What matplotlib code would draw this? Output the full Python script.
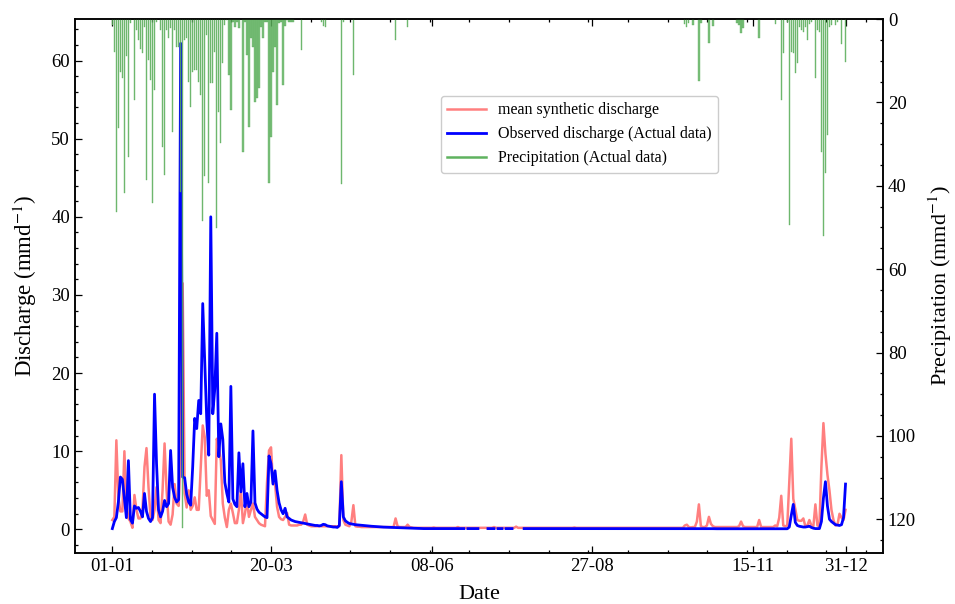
import numpy as np
import pandas as pd
import matplotlib
matplotlib.use("Agg")
import matplotlib.pyplot as plt
from matplotlib.lines import Line2D
from matplotlib.ticker import AutoMinorLocator, MultipleLocator

nan = np.nan

# Daily series for a leap year (2020-01-01 .. 2020-12-31, 366 days)
dates = pd.date_range("2020-01-01", "2020-12-31", freq="D")

# Observed discharge (mm/d)
obs_discharge = [
    0.1, 1.0, 1.5, 3.5, 6.7, 6.4, 4.0, 1.5, 8.8, 1.3,
    0.8, 3.0, 2.7, 2.8, 2.3, 1.6, 4.6, 2.3, 1.4, 1.0,
    1.5, 17.3, 8.4, 2.5, 1.6, 2.3, 3.7, 2.9, 3.3, 10.1,
    5.4, 4.1, 3.5, 3.8, 62.2, 6.7, 6.6, 4.5, 3.5, 3.1,
    8.0, 14.2, 12.9, 16.5, 14.8, 28.9, 21.6, 14.0, 9.5, 40.0,
    14.8, 18.0, 25.1, 9.3, 13.5, 11.5, 6.0, 4.6, 3.5, 18.3,
    3.9, 3.2, 2.9, 9.8, 4.8, 8.4, 2.9, 4.6, 2.9, 3.5,
    12.6, 3.4, 2.6, 2.2, 2.0, 1.8, 1.6, 1.5, 9.4, 8.4,
    5.8, 7.5, 5.0, 3.4, 2.5, 2.0, 2.7, 1.6, 1.4, 1.2,
    1.1, 1.0, 0.95, 0.9, 0.85, 0.8, 0.75, 0.7, 0.65, 0.6,
    0.55, 0.5, 0.5, 0.45, 0.5, 0.65, 0.6, 0.45, 0.4, 0.35,
    0.3, 0.3, 0.25, 0.5, 6.1, 1.6, 1.1, 0.9, 0.75, 0.7,
    0.65, 0.6, 0.58, 0.55, 0.52, 0.5, 0.48, 0.45, 0.42, 0.4,
    0.38, 0.36, 0.34, 0.32, 0.3, 0.29, 0.28, 0.26, 0.25, 0.24,
    0.23, 0.22, 0.21, 0.2, 0.19, 0.18, 0.17, 0.16, 0.15, 0.14,
    0.13, 0.12, 0.12, 0.11, 0.11, 0.1, 0.1, 0.1, 0.1, 0.1,
    0.1, 0.1, 0.1, 0.1, 0.1, 0.1, 0.1, 0.1, 0.1, 0.1,
    0.1, 0.1, 0.1, 0.1, 0.1, 0.1, nan, 0.1, 0.1, 0.1,
    0.1, 0.1, 0.1, nan, nan, nan, nan, 0.1, 0.1, 0.1,
    0.1, nan, 0.1, 0.1, 0.1, nan, 0.1, 0.1, 0.1, 0.1,
    nan, nan, nan, nan, nan, 0.1, 0.1, 0.1, 0.1, 0.1,
    0.1, 0.1, 0.1, 0.1, 0.1, 0.1, 0.1, 0.1, 0.1, 0.1,
    0.1, 0.1, 0.1, 0.1, 0.1, 0.1, 0.1, 0.1, 0.1, 0.1,
    0.1, 0.1, 0.1, 0.1, 0.1, 0.1, 0.1, 0.1, 0.1, 0.1,
    0.1, 0.1, 0.1, 0.1, 0.1, 0.1, 0.1, 0.1, 0.1, 0.1,
    0.1, 0.1, 0.1, 0.1, 0.1, 0.1, 0.1, 0.1, 0.1, 0.1,
    0.1, 0.1, 0.1, 0.1, 0.1, 0.1, 0.1, 0.1, 0.1, 0.1,
    0.09, 0.09, 0.09, 0.09, 0.09, 0.09, 0.09, 0.09, 0.09, 0.09,
    0.09, 0.09, 0.09, 0.09, 0.09, 0.09, 0.09, 0.09, 0.09, 0.09,
    0.09, 0.09, 0.09, 0.09, 0.09, 0.09, 0.09, 0.09, 0.09, 0.09,
    0.08, 0.08, 0.08, 0.08, 0.08, 0.08, 0.08, 0.08, 0.08, 0.08,
    0.08, 0.08, 0.08, 0.08, 0.08, 0.08, 0.08, 0.08, 0.08, 0.08,
    0.08, 0.08, 0.08, 0.08, 0.08, 0.08, 0.08, 0.08, 0.08, 0.08,
    0.08, 0.08, 0.08, 0.08, 0.08, 0.08, 0.08, 0.3, 1.8, 3.2,
    0.9, 0.5, 0.4, 0.35, 0.3, 0.3, 0.35, 0.4, 0.25, 0.15,
    0.1, 0.1, 0.1, 1.0, 4.0, 6.1, 3.0, 1.3, 1.0, 0.8,
    0.6, 0.55, 0.5, 0.6, 1.5, 5.8,
]

# Mean synthetic discharge (mm/d)
syn_discharge = [
    1.2, 1.6, 11.4, 4.1, 2.3, 2.3, 10.0, 3.3, 1.4, 1.0,
    0.2, 4.4, 2.5, 1.4, 1.4, 2.5, 8.0, 10.4, 5.4, 1.6,
    1.2, 2.5, 5.4, 1.2, 0.8, 5.0, 11.0, 5.0, 1.0, 0.6,
    1.9, 5.8, 3.3, 3.0, 10.0, 31.5, 4.6, 2.8, 5.0, 2.5,
    3.0, 4.1, 2.5, 2.5, 8.0, 13.3, 11.8, 4.3, 5.0, 1.7,
    1.2, 0.7, 11.6, 10.5, 8.8, 3.3, 1.5, 0.3, 2.5, 3.3,
    2.1, 0.8, 0.8, 2.5, 5.0, 0.8, 2.0, 3.7, 1.6, 2.5,
    3.3, 1.6, 1.2, 0.8, 0.6, 0.5, 0.4, 6.0, 10.1, 10.5,
    5.8, 5.8, 2.9, 1.6, 1.3, 1.2, 1.6, 2.1, 0.6, 0.5,
    0.5, 0.5, 0.5, 0.6, 0.6, 1.0, 1.9, 0.6, 0.5, 0.4,
    0.4, 0.4, 0.4, 0.4, 0.4, 0.4, 0.4, 0.4, 0.4, 0.4,
    0.4, 0.4, 0.4, 0.4, 9.5, 1.2, 0.6, 0.5, 0.4, 1.0,
    3.1, 0.4, 0.35, 0.35, 0.3, 0.3, 0.3, 0.3, 0.3, 0.3,
    0.3, 0.3, 0.3, 0.3, 0.3, 0.3, 0.3, 0.3, 0.3, 0.3,
    0.3, 1.4, 0.4, 0.3, 0.3, 0.3, 0.3, 0.6, 0.3, 0.25,
    0.2, 0.2, 0.2, 0.2, 0.2, 0.2, 0.2, 0.2, 0.2, 0.2,
    0.25, 0.2, 0.2, 0.2, 0.2, 0.2, 0.2, 0.2, 0.2, 0.2,
    0.2, 0.2, 0.3, 0.2, 0.2, 0.2, 0.2, 0.2, 0.2, 0.2,
    0.2, 0.2, 0.2, 0.2, 0.2, 0.2, 0.2, 0.2, 0.2, 0.2,
    0.3, 0.2, 0.2, 0.2, 0.2, 0.2, 0.2, 0.2, 0.2, 0.2,
    0.2, 0.35, 0.2, 0.2, 0.2, 0.2, 0.2, 0.2, 0.2, 0.2,
    0.2, 0.2, 0.2, 0.2, 0.2, 0.2, 0.2, 0.2, 0.2, 0.2,
    0.2, 0.2, 0.2, 0.2, 0.2, 0.2, 0.2, 0.2, 0.2, 0.2,
    0.25, 0.2, 0.2, 0.2, 0.2, 0.2, 0.2, 0.2, 0.2, 0.2,
    0.2, 0.2, 0.2, 0.2, 0.2, 0.2, 0.2, 0.2, 0.2, 0.2,
    0.2, 0.2, 0.2, 0.2, 0.2, 0.2, 0.2, 0.2, 0.2, 0.2,
    0.2, 0.2, 0.2, 0.2, 0.2, 0.2, 0.2, 0.2, 0.2, 0.2,
    0.2, 0.2, 0.2, 0.2, 0.2, 0.2, 0.2, 0.2, 0.2, 0.2,
    0.2, 0.2, 0.2, 0.2, 0.2, 0.5, 0.6, 0.3, 0.25, 0.3,
    0.3, 1.0, 3.2, 0.4, 0.3, 0.3, 0.5, 1.6, 0.7, 0.4,
    0.3, 0.3, 0.3, 0.3, 0.3, 0.3, 0.3, 0.3, 0.3, 0.3,
    0.3, 0.3, 0.4, 1.0, 0.4, 0.3, 0.3, 0.3, 0.3, 0.3,
    0.3, 0.3, 1.2, 0.3, 0.3, 0.3, 0.3, 0.3, 0.3, 0.3,
    0.5, 0.4, 1.5, 4.3, 0.5, 0.4, 0.5, 6.0, 11.6, 3.9,
    2.6, 1.2, 1.1, 1.1, 1.4, 0.4, 0.5, 1.2, 0.5, 0.4,
    3.2, 0.5, 0.4, 8.0, 13.6, 9.7, 7.0, 5.0, 2.5, 1.2,
    0.5, 0.6, 2.0, 1.5, 1.2, 2.5,
]

# Precipitation (mm/d): day-of-year index and depth for rainy days
rain_day = [
    0, 1, 2, 3, 4, 5, 6, 7, 8, 9,
    11, 12, 13, 14, 15, 16, 17, 18, 19, 20, 21, 22,
    24, 25, 26, 27, 28, 29, 30, 31, 32, 33, 34, 35,
    36, 37, 38, 39, 40, 41, 42, 43, 44, 45, 46, 47, 48, 49,
    50, 51, 52, 53, 54, 55, 56, 57, 58, 59, 60, 61, 62, 63,
    65, 66, 67, 68, 69, 70, 71, 72, 73, 74, 75, 76, 77, 78, 79,
    80, 81, 82, 83, 84, 85, 86, 87, 88, 89, 90,
    94, 104, 105, 106, 114, 115, 120, 141, 147,
    285, 286, 287, 289, 292, 293, 297, 299, 311, 312, 313, 314,
    322, 330, 333, 334, 336, 337, 338, 339, 340, 341, 342, 343,
    344, 345, 346, 347, 348, 350, 351, 352, 353, 354, 355, 356,
    357, 358, 360, 361, 363, 365,
]
rain_mm = [
    1.4, 7.8, 46.4, 26.2, 12.6, 14.2, 41.8, 8.8, 33.0, 1.0,
    19.4, 2.6, 5.0, 7.2, 8.2, 2.0, 38.6, 9.8, 14.5, 44.1, 17.0, 0.8,
    2.6, 30.6, 37.4, 2.6, 4.6, 2.2, 27.0, 2.6, 6.6, 6.6, 41.5, 122.0,
    5.0, 4.6, 15.0, 21.0, 12.7, 12.3, 12.3, 15.0, 18.2, 48.5, 37.6, 3.8, 39.4, 15.3,
    15.3, 8.0, 50.1, 22.2, 29.8, 10.6, 1.3, 0.3, 13.4, 21.8, 0.8, 1.8, 0.7, 2.2,
    31.8, 0.8, 8.5, 25.8, 4.6, 6.6, 19.8, 19.0, 16.5, 2.0, 4.6, 0.8, 0.6, 39.4, 28.2,
    12.6, 6.6, 20.6, 1.0, 0.8, 15.8, 1.6, 0.3, 0.8, 0.6, 0.8,
    7.4, 0.8, 1.6, 2.0, 39.5, 0.8, 13.3, 5.0, 2.0,
    1.2, 1.8, 1.0, 1.5, 14.9, 1.0, 5.8, 1.6, 1.0, 1.5, 3.3, 2.1,
    4.6, 1.2, 19.4, 8.2, 0.8, 49.3, 7.8, 8.2, 13.0, 10.6, 1.8, 2.6,
    3.2, 2.0, 5.0, 1.2, 0.8, 14.2, 2.6, 3.0, 31.8, 52.1, 37.0, 27.8,
    1.8, 1.4, 1.4, 0.8, 6.0, 10.2,
]

# Dates shown on the x axis
tick_dates = ["2020-01-01", "2020-03-20", "2020-06-08",
              "2020-08-27", "2020-11-15", "2020-12-31"]

plt.rcParams["font.family"] = ["Liberation Serif", "DejaVu Serif"]
plt.rcParams["mathtext.fontset"] = "stix"

day = np.arange(len(dates))
tick_pos = [dates.get_loc(pd.Timestamp(d)) for d in tick_dates]
tick_lab = [pd.Timestamp(d).strftime("%d-%m") for d in tick_dates]

rain_color = "#5fb25f"

fig = plt.figure(figsize=(9.55, 6.04), dpi=100)
ax1 = fig.add_axes([0.0785, 0.0844, 0.846, 0.884])

ax1.plot(day, syn_discharge, color="red", alpha=0.5, lw=1.8,
         label="mean synthetic discharge")
ax1.plot(day, obs_discharge, color="blue", lw=2.0,
         label="Observed discharge (Actual data)")

ax2 = ax1.twinx()
ax2.bar(rain_day, rain_mm, width=0.65, color=rain_color, alpha=0.8,
        edgecolor="#4ea54e", linewidth=0.3)
ax2.invert_yaxis()

ax1.set_xticks(tick_pos)
ax1.set_xticklabels(tick_lab)
ax1.xaxis.set_minor_locator(AutoMinorLocator(4))
ax1.yaxis.set_major_locator(MultipleLocator(10))
ax1.yaxis.set_minor_locator(AutoMinorLocator(5))
ax2.yaxis.set_major_locator(MultipleLocator(20))
ax2.yaxis.set_minor_locator(AutoMinorLocator(4))

ax1.tick_params(axis="both", which="both", direction="in", top=True,
                right=False, labelsize=13.5, width=0.9)
ax1.tick_params(which="major", length=5)
ax1.tick_params(which="minor", length=2.5)
ax2.tick_params(axis="y", which="both", direction="in", labelsize=13.5,
                width=0.9)
ax2.tick_params(which="major", length=5)
ax2.tick_params(which="minor", length=2.5)
for a in (ax1, ax2):
    for s in a.spines.values():
        s.set_linewidth(1.1)

ax1.set_xlabel("Date", fontsize=16, labelpad=7)
ax1.set_ylabel("Discharge (mmd$^{-1}$)", fontsize=16.5, labelpad=9)
ax2.set_ylabel("Precipitation (mmd$^{-1}$)", fontsize=16, labelpad=8)

handles = [
    Line2D([], [], color="red", alpha=0.5, lw=1.8),
    Line2D([], [], color="blue", lw=2.0),
    Line2D([], [], color=rain_color, lw=1.8),
]
labels = ["mean synthetic discharge", "Observed discharge (Actual data)",
          "Precipitation (Actual data)"]
leg = ax2.legend(handles, labels, loc="upper left",
                 bbox_to_anchor=(0.453, 0.856), borderaxespad=0,
                 fontsize=11.5, frameon=True, fancybox=True,
                 edgecolor="#cccccc", framealpha=1.0, handlelength=2.4)

fig.savefig("out.png", dpi=100)
